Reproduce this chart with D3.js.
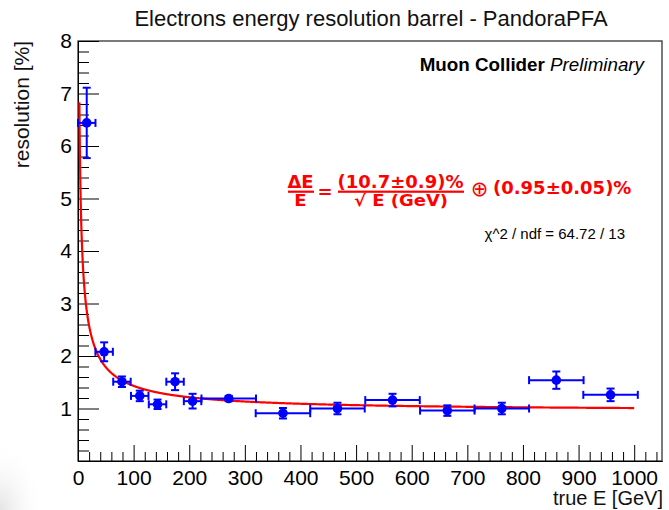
<!DOCTYPE html>
<html>
<head>
<meta charset="utf-8">
<script src="https://cdn.jsdelivr.net/npm/d3@7"></script>
<style>
  html, body { margin: 0; padding: 0; background: #fff; }
  svg { display: block; font-family: "Liberation Sans", Arial, sans-serif; }
</style>
</head>
<body>
<svg id="chart" width="669" height="510"></svg>
<script>
// Measured electron energy resolution per true-energy bin (barrel, PandoraPFA)
const energy      = [15.7, 47, 79, 111, 143, 174.5, 206, 271, 368.5, 466.5, 565.5, 664, 762, 860, 957.5];
const energyErr   = [15.7, 15.7, 15.7, 15.7, 15.7, 15.7, 15.7, 49, 49, 49, 49, 49, 49, 49, 49];
const resolution  = [6.44, 2.08, 1.51, 1.24, 1.08, 1.51, 1.14, 1.19, 0.91, 1.00, 1.16, 0.96, 1.00, 1.54, 1.26];
const resolutionErr = [0.67, 0.18, 0.10, 0.10, 0.09, 0.16, 0.14, 0.05, 0.10, 0.11, 0.12, 0.10, 0.11, 0.165, 0.12];

// Fit: dE/E = a/sqrt(E) (+) b
const fitStochastic = 10.7;
const fitConstant = 0.95;
const fitRange = [2.5, 1000];

const xTicksMajor = d3.range(0, 1001, 100);
const yTicksMajor = [1, 2, 3, 4, 5, 6, 7, 8];

const SANS = "Liberation Sans, Arial, sans-serif";
const WIDE = "DejaVu Sans, Verdana, sans-serif";

const svg = d3.select("#chart");
const L = 78, R = 662, T = 41, B = 461;

// faint shading in lower-left corner
const defs = svg.append("defs");
const rg = defs.append("radialGradient").attr("id", "corner").attr("cx", "0").attr("cy", "1").attr("r", "1");
rg.append("stop").attr("offset", "0").attr("stop-color", "#e4e4e4");
rg.append("stop").attr("offset", "1").attr("stop-color", "#ffffff").attr("stop-opacity", 0);
svg.append("rect").attr("x", 0).attr("y", 440).attr("width", 45).attr("height", 70).attr("fill", "url(#corner)");

const x = d3.scaleLinear().domain([0, 1050]).range([L, R]);
const y = d3.scaleLinear().domain([0, 8]).range([B, T]);

// frame
svg.append("rect").attr("x", L).attr("y", T).attr("width", R - L).attr("height", B - T)
  .attr("fill", "none").attr("stroke", "#333").attr("stroke-width", 1.3);

// x axis: major + minor ticks, drawn inward
const xMinor = d3.range(0, 1050, 20).filter(v => v % 100 !== 0);
const gx = svg.append("g").attr("transform", `translate(0,${B})`);
gx.call(d3.axisBottom(x).tickValues(xTicksMajor).tickSize(-16).tickSizeOuter(0).tickPadding(9).tickFormat(d3.format("d")));
gx.append("g").call(d3.axisBottom(x).tickValues(xMinor).tickSize(-9).tickSizeOuter(0).tickFormat(""));
gx.selectAll(".domain").attr("stroke", "#000");
gx.selectAll("text").style("font-size", "21px").style("font-family", SANS).attr("fill", "#000");

// y axis
const yMinor = d3.range(0, 8.001, 0.2).map(v => +v.toFixed(1)).filter(v => Math.abs(v - Math.round(v)) > 1e-6);
const gy = svg.append("g").attr("transform", `translate(${L},0)`);
gy.call(d3.axisLeft(y).tickValues(yTicksMajor).tickSize(-21).tickSizeOuter(0).tickPadding(6).tickFormat(d3.format("d")));
gy.append("g").call(d3.axisLeft(y).tickValues(yMinor).tickSize(-11).tickSizeOuter(0).tickFormat(""));
gy.selectAll(".domain").attr("stroke", "#000");
gy.selectAll("text").style("font-size", "21px").style("font-family", SANS).attr("fill", "#000");

// fit curve
const fitE = d3.range(fitRange[0], fitRange[1] + 0.001, 0.5);
const fitFn = e => Math.sqrt(Math.pow(fitStochastic / Math.sqrt(e), 2) + fitConstant * fitConstant);
svg.append("path")
  .datum(fitE)
  .attr("fill", "none").attr("stroke", "#ff0000").attr("stroke-width", 2.2)
  .attr("d", d3.line().x(e => x(e)).y(e => y(fitFn(e))));

// data points with error bars
const pts = energy.map((e, i) => ({ e, ex: energyErr[i], r: resolution[i], er: resolutionErr[i] }));
const blue = "#0000ff";
const g = svg.append("g").attr("stroke", blue).attr("stroke-width", 2).attr("fill", "none");
const cap = 4;
pts.forEach(p => {
  const cx = x(p.e), cy = y(p.r);
  const x0 = x(Math.max(0, p.e - p.ex)), x1 = x(p.e + p.ex);
  const y0 = y(p.r - p.er), y1 = y(p.r + p.er);
  g.append("line").attr("x1", x0).attr("x2", x1).attr("y1", cy).attr("y2", cy);
  g.append("line").attr("x1", x0).attr("x2", x0).attr("y1", cy - cap).attr("y2", cy + cap);
  g.append("line").attr("x1", x1).attr("x2", x1).attr("y1", cy - cap).attr("y2", cy + cap);
  g.append("line").attr("x1", cx).attr("x2", cx).attr("y1", y0).attr("y2", y1);
  g.append("line").attr("x1", cx - cap).attr("x2", cx + cap).attr("y1", y0).attr("y2", y0);
  g.append("line").attr("x1", cx - cap).attr("x2", cx + cap).attr("y1", y1).attr("y2", y1);
});
svg.append("g").selectAll("circle").data(pts).join("circle")
  .attr("cx", d => x(d.e)).attr("cy", d => y(d.r)).attr("r", 4.8).attr("fill", blue);

// titles
svg.append("text").attr("x", 371).attr("y", 26).attr("text-anchor", "middle")
  .style("font-size", "22px").style("font-family", SANS).attr("fill", "#111")
  .text("Electrons energy resolution barrel - PandoraPFA");
svg.append("text").attr("transform", "translate(29,41) rotate(-90)").attr("text-anchor", "end")
  .style("font-size", "21px").style("font-family", SANS).attr("fill", "#111").text("resolution [%]");
svg.append("text").attr("x", 663).attr("y", 505).attr("text-anchor", "end")
  .style("font-size", "20px").style("font-family", SANS).attr("fill", "#111").text("true E [GeV]");

// experiment label
const lab = svg.append("text").attr("x", 644).attr("y", 71).attr("text-anchor", "end")
  .style("font-size", "18.8px").style("font-family", SANS).attr("fill", "#000");
lab.append("tspan").attr("font-weight", "bold").text("Muon Collider");
lab.append("tspan").attr("font-style", "italic").text(" Preliminary");

// fit formula
const red = "#ff0000";
const ftext = (tx, ty, anchor, s, opts = {}) => svg.append("text")
  .attr("transform", `translate(${tx},${ty}) scale(1,${opts.sy || 1})`)
  .attr("text-anchor", anchor).attr("fill", red)
  .style("font-family", opts.family || WIDE)
  .style("font-weight", opts.weight || "bold")
  .style("font-size", (opts.size || 18) + "px")
  .text(s);
ftext(300.5, 188, "middle", "ΔE");
svg.append("rect").attr("x", 288).attr("y", 190.6).attr("width", 26).attr("height", 2.2).attr("fill", red);
ftext(300.5, 206, "middle", "E", { sy: 0.9 });
ftext(325, 198, "middle", "=");
ftext(400.5, 188, "middle", "(10.7±0.9)%");
svg.append("rect").attr("x", 338).attr("y", 190.6).attr("width", 126).attr("height", 2.2).attr("fill", red);
ftext(401, 206, "middle", "√ E (GeV)", { sy: 0.9 });
ftext(479.5, 196, "middle", "⊕", { weight: "normal", size: 21 });
ftext(493, 194, "start", "(0.95±0.05)%");

svg.append("text").attr("x", 625).attr("y", 239).attr("text-anchor", "end")
  .style("font-size", "15px").style("font-family", SANS).attr("fill", "#000")
  .text("χ^2 / ndf = 64.72 / 13");
</script>
</body>
</html>
